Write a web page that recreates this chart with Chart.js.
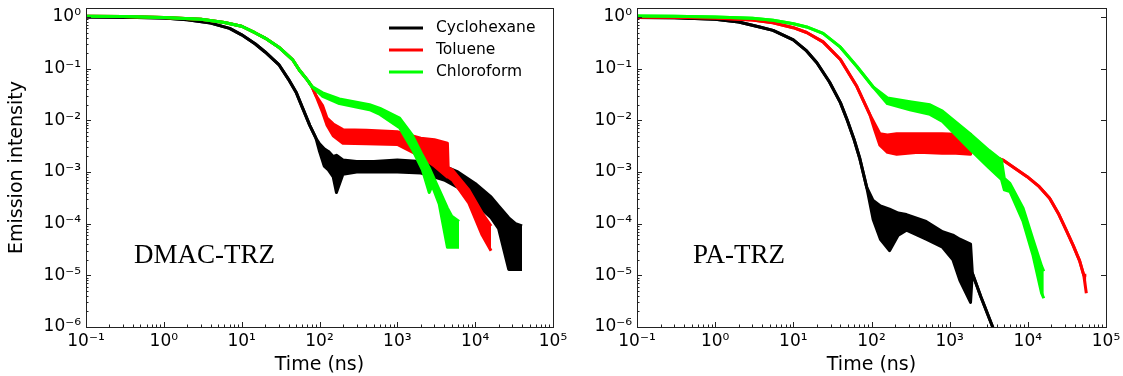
<!DOCTYPE html>
<html>
<head>
<meta charset="utf-8">
<script src="https://cdn.jsdelivr.net/npm/chart.js@4"></script>
<style>
  html, body { margin: 0; padding: 0; background: #fff; overflow: hidden; width: 1123px; height: 376px; }
  canvas { position: absolute; top: 0; }
  #chart-left { left: 0; }
  #chart-right { left: 575px; }
</style>
</head>
<body>
<canvas id="chart-left" width="590" height="376"></canvas>
<canvas id="chart-right" width="560" height="376"></canvas>
<script>
// axis ticks
const X_TICKS = [0.1, 1, 10, 100, 1000, 10000, 100000];
const X_TICK_LABELS = ['10⁻¹', '10⁰', '10¹', '10²', '10³', '10⁴', '10⁵'];
const Y_TICKS = [1e-6, 1e-5, 1e-4, 1e-3, 1e-2, 1e-1, 1];
const Y_TICK_LABELS = ['10⁻⁶', '10⁻⁵', '10⁻⁴', '10⁻³', '10⁻²', '10⁻¹', '10⁰'];
const MINOR_STEPS = [2, 3, 4, 5, 6, 7, 8, 9];

const SOLVENTS = ['Cyclohexane', 'Toluene', 'Chloroform'];
const COLORS = ['#000000', '#ff0000', '#00ff00'];

// each curve: time (ns), lower edge and upper edge of the noisy trace.
// null in the upper edge = same as lower (clean part of the trace)

// DMAC-TRZ
const L_CYC_T  = [0.1, 0.3, 1, 2, 4, 7, 10, 15, 20, 30, 40, 50, 60, 75, 90, 100, 115, 130, 150, 165, 200, 300, 500, 1000, 2000, 3000, 4000, 6000, 10000, 16000, 20000, 27000, 33000, 40000];
const L_CYC_LO = [1.0, 0.99, 0.95, 0.88, 0.76, 0.6, 0.45, 0.3, 0.21, 0.12, 0.062, 0.035, 0.018, 0.008, 0.0045, 0.0025, 0.0013, 0.0011, 0.0008, 0.0004, 0.0009, 0.001, 0.001, 0.001, 0.00095, 0.0008, 0.0007, 0.0005, 0.00025, 0.00013, 0.00008, 0.000013, 0.000013, 0.000013];
const L_CYC_HI = [null, null, null, null, null, null, null, null, null, null, null, null, null, null, null, 0.0035, 0.0028, 0.0025, 0.002, 0.0021, 0.0017, 0.0016, 0.0016, 0.0017, 0.0016, 0.0014, 0.0013, 0.001, 0.0006, 0.00033, 0.00022, 0.00013, 0.0001, 0.00009];

const L_TOL_T  = [0.1, 0.3, 1, 3, 6, 10, 15, 20, 30, 45, 55, 70, 80, 90, 110, 125, 150, 200, 400, 1000, 2000, 3000, 4400, 4500, 5100, 8300, 12300, 16000];
const L_TOL_LO = [1.03, 1.02, 0.98, 0.9, 0.78, 0.66, 0.49, 0.39, 0.26, 0.15, 0.094, 0.06, 0.045, 0.03, 0.014, 0.008, 0.005, 0.0036, 0.0035, 0.0034, 0.002, 0.0013, 0.0008, 0.0008, 0.0007, 0.00025, 0.00006, 0.00003];
const L_TOL_HI = [null, null, null, null, null, null, null, null, null, null, null, null, null, null, 0.019, 0.011, 0.0085, 0.0066, 0.0064, 0.006, 0.0045, 0.0042, 0.0036, 0.0012, 0.0011, 0.00045, 0.00016, 0.00009];

const L_CHL_T  = [0.1, 0.3, 1, 3, 6, 10, 15, 20, 30, 45, 55, 70, 80, 110, 180, 440, 600, 1070, 1550, 2100, 2570, 2800, 3450, 4400, 5000, 6200];
const L_CHL_LO = [1.03, 1.02, 0.98, 0.9, 0.78, 0.66, 0.49, 0.39, 0.26, 0.15, 0.094, 0.06, 0.045, 0.029, 0.021, 0.016, 0.013, 0.0072, 0.0028, 0.0011, 0.0004, 0.00055, 0.00024, 0.000035, 0.000035, 0.000035];
const L_CHL_HI = [null, null, null, null, null, null, null, null, null, null, null, null, null, 0.034, 0.026, 0.02, 0.017, 0.011, 0.0052, 0.0021, 0.0012, 0.0009, 0.00045, 0.0002, 0.00014, 0.00011];

// PA-TRZ
const R_CYC_T  = [0.1, 0.3, 1, 2, 3.7, 5.5, 10, 14.8, 20, 29, 40, 49, 60, 71, 87, 105, 130, 170, 220, 280, 500, 810, 1100, 1350, 1850, 1950, 2500, 3550, 4500];
const R_CYC_LO = [0.98, 0.96, 0.9, 0.8, 0.64, 0.55, 0.36, 0.22, 0.13, 0.055, 0.022, 0.01, 0.0042, 0.0018, 0.0005, 0.00012, 0.00005, 0.00003, 0.00006, 0.000075, 0.00005, 0.000035, 0.00002, 0.000008, 0.000003, 0.000011, 0.0000039, 0.000001, 0.00000044];
const R_CYC_HI = [null, null, null, null, null, null, null, null, null, null, null, null, null, null, null, 0.00028, 0.00022, 0.00019, 0.00016, 0.00015, 0.00011, 0.00007, 0.00006, 0.00005, 0.00004, null, null, null, null];

const R_TOL_T  = [0.1, 0.3, 1, 3, 5.5, 10, 14.8, 24, 40, 65, 95, 110, 128, 160, 210, 400, 800, 1200, 1850, 1950, 4800, 9800, 14000, 19000, 25000, 31600, 38000, 46000, 52000, 56000];
const R_TOL_LO = [1.0, 0.99, 0.95, 0.87, 0.77, 0.62, 0.5, 0.33, 0.15, 0.045, 0.013, 0.0065, 0.0033, 0.0024, 0.0022, 0.0024, 0.0023, 0.0023, 0.0022, 0.0029, 0.0017, 0.00081, 0.00052, 0.00031, 0.00015, 0.00007, 0.000038, 0.000019, 0.00001, 0.0000045];
const R_TOL_HI = [null, null, null, null, null, null, null, null, null, null, null, 0.0085, 0.0055, 0.0052, 0.0055, 0.0055, 0.0055, 0.0054, 0.0054, null, null, null, null, null, null, null, null, null, null, 0.00001];

const R_CHL_T  = [0.1, 0.3, 1, 3, 5.5, 10, 14.8, 24, 40, 65, 105, 160, 310, 560, 810, 1800, 3200, 4600, 5000, 5900, 8700, 11600, 15000, 16000];
const R_CHL_LO = [1.04, 1.03, 1.0, 0.94, 0.86, 0.74, 0.64, 0.48, 0.26, 0.11, 0.044, 0.021, 0.016, 0.013, 0.0095, 0.0028, 0.0012, 0.00072, 0.00045, 0.00042, 0.00011, 0.000025, 0.0000045, 0.0000036];
const R_CHL_HI = [null, null, null, null, null, null, null, null, null, null, null, 0.027, 0.023, 0.02, 0.015, 0.0056, 0.0026, 0.0017, 0.00075, 0.0006, 0.0002, 0.00005, 0.000015, 0.000012];

Chart.defaults.font.family = '"DejaVu Sans", sans-serif';
Chart.defaults.color = '#000';

function band(T, LO, HI, color) {
  const common = { borderColor: color, backgroundColor: color, borderWidth: 3, pointRadius: 0, tension: 0, borderJoinStyle: 'round' };
  return [
    { ...common, data: T.map((t, i) => ({ x: t, y: LO[i] })), fill: false },
    { ...common, data: T.map((t, i) => ({ x: t, y: HI[i] ?? LO[i] })), fill: '-1' }
  ];
}

// frame, inward ticks, legend and sample name
const decor = {
  id: 'decor',
  afterDatasetsDraw(chart, args, opts) {
    const { ctx, chartArea: a, scales: { x, y } } = chart;
    ctx.save();
    ctx.strokeStyle = '#222';
    ctx.lineWidth = 1;
    const line = (x1, y1, x2, y2) => { ctx.beginPath(); ctx.moveTo(x1, y1); ctx.lineTo(x2, y2); ctx.stroke(); };

    X_TICKS.forEach((d, i) => {
      const px = Math.round(x.getPixelForValue(d)) + 0.5;
      line(px, a.bottom, px, a.bottom - 5);
      if (i < X_TICKS.length - 1) MINOR_STEPS.forEach(m => {
        const mx = Math.round(x.getPixelForValue(d * m)) + 0.5;
        line(mx, a.bottom, mx, a.bottom - 2.5);
      });
    });
    Y_TICKS.forEach((d, i) => {
      const py = Math.round(y.getPixelForValue(d)) + 0.5;
      line(a.left, py, a.left + 5, py);
      if (opts.rightTicks) line(a.right, py, a.right - 5, py);
      MINOR_STEPS.forEach(m => {
        const v = d * m;
        if (v > y.max) return;
        const my = Math.round(y.getPixelForValue(v)) + 0.5;
        line(a.left, my, a.left + 2.5, my);
      });
    });
    ctx.strokeRect(Math.round(a.left) + 0.5, Math.round(a.top) + 0.5, Math.round(a.right - a.left), Math.round(a.bottom - a.top));

    if (opts.legend) {
      ctx.font = '15.5px "DejaVu Sans"';
      ctx.textBaseline = 'middle';
      ctx.textAlign = 'left';
      SOLVENTS.forEach((s, i) => {
        const ly = a.top + 20 + i * 22;
        ctx.strokeStyle = COLORS[i];
        ctx.lineWidth = 3;
        line(a.right - 164, ly, a.right - 130, ly);
        ctx.fillStyle = '#000';
        ctx.fillText(s, a.right - 117, ly);
      });
    }

    ctx.font = '27px "Liberation Serif", serif';
    ctx.fillStyle = '#000';
    ctx.textAlign = 'left';
    ctx.textBaseline = 'alphabetic';
    ctx.fillText(opts.name, x.getPixelForValue(opts.nameAt[0]), y.getPixelForValue(opts.nameAt[1]));
    ctx.restore();
  }
};

function makeChart(id, datasets, o) {
  return new Chart(document.getElementById(id), {
    type: 'line',
    data: { datasets },
    options: {
      responsive: false,
      animation: false,
      layout: { padding: { left: 0, top: 8, right: o.padRight, bottom: 0 } },
      plugins: {
        legend: { display: false },
        tooltip: { enabled: false },
        decor: o.decor
      },
      scales: {
        x: {
          type: 'logarithmic', min: 0.1, max: 1e5,
          afterBuildTicks: s => { s.ticks = X_TICKS.map(v => ({ value: v })); },
          afterFit: s => { s.height = 49; s.paddingLeft = 0; s.paddingRight = 0; },
          grid: { display: false, drawTicks: false },
          border: { display: false },
          ticks: { autoSkip: false, maxRotation: 0, padding: 4, font: { size: 17 }, callback: (v, i) => X_TICK_LABELS[i] },
          title: { display: true, text: 'Time (ns)', font: { size: 19 }, padding: { top: 0, bottom: 0 } }
        },
        y: {
          type: 'logarithmic', min: 1e-6, max: 1.49,
          afterBuildTicks: s => { s.ticks = Y_TICKS.map(v => ({ value: v })); },
          afterFit: s => { s.width = o.yWidth; s.paddingTop = 0; s.paddingBottom = 0; },
          grid: { display: false, drawTicks: false },
          border: { display: false },
          ticks: { autoSkip: false, padding: 5, font: { size: 17 }, callback: (v, i) => Y_TICK_LABELS[i] },
          title: { display: o.yTitle, text: 'Emission intensity', font: { size: 19 }, padding: { top: 6, bottom: 0 } }
        }
      }
    },
    plugins: [decor]
  });
}

// later solvents are drawn on top, so they come first
makeChart('chart-left', [
  ...band(L_CHL_T, L_CHL_LO, L_CHL_HI, COLORS[2]),
  ...band(L_TOL_T, L_TOL_LO, L_TOL_HI, COLORS[1]),
  ...band(L_CYC_T, L_CYC_LO, L_CYC_HI, COLORS[0])
], { padRight: 37, yWidth: 86, yTitle: true,
     decor: { legend: true, rightTicks: false, name: 'DMAC-TRZ', nameAt: [0.414, 1.74e-5] } });

makeChart('chart-right', [
  ...band(R_CHL_T, R_CHL_LO, R_CHL_HI, COLORS[2]),
  ...band(R_TOL_T, R_TOL_LO, R_TOL_HI, COLORS[1]),
  ...band(R_CYC_T, R_CYC_LO, R_CYC_HI, COLORS[0])
], { padRight: 29, yWidth: 62, yTitle: false,
     decor: { legend: false, rightTicks: true, name: 'PA-TRZ', nameAt: [0.52, 1.74e-5] } });
</script>
</body>
</html>
